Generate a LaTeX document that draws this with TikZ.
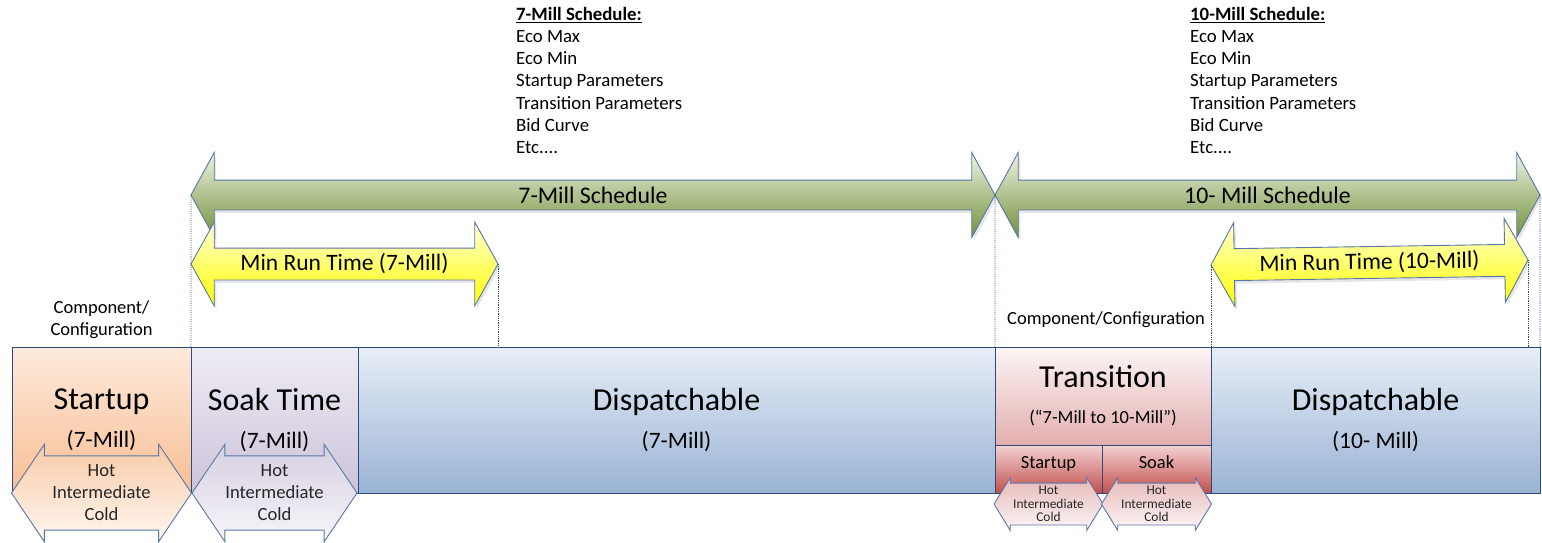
\documentclass[tikz,border=0pt]{standalone}
\usepackage{fontspec}
\setmainfont{Carlito}
\usetikzlibrary{positioning,shapes.arrows,shadows}

\definecolor{edge}{HTML}{2C4A7C}
\definecolor{arrowedge}{HTML}{5877A6}
\definecolor{starttop}{HTML}{FDEADC}
\definecolor{startbot}{HTML}{F8BE93}
\definecolor{soaktop}{HTML}{EFECF4}
\definecolor{soakbot}{HTML}{CCC3DA}
\definecolor{disptop}{HTML}{E7EEF7}
\definecolor{dispbot}{HTML}{9AB3D4}
\definecolor{transtop}{HTML}{FCF5F5}
\definecolor{transbot}{HTML}{E3AEAE}
\definecolor{subtop}{HTML}{F3D2D2}
\definecolor{subbot}{HTML}{C2504D}
\definecolor{schedtop}{HTML}{EEF3E3}
\definecolor{schedbot}{HTML}{72903A}
\definecolor{runtop}{HTML}{FFFFD8}
\definecolor{runbot}{HTML}{FFFF00}

\newcommand{\phasefont}{\fontsize{32}{36}\selectfont}

\tikzset{
    %boxes of the bottom row
    phase/.style={
           rectangle,
           draw=edge, line width=0.9pt,
           inner sep=0pt, outer sep=0pt,
           minimum height=146pt,
           align=center,
           font=\fontsize{23.5}{38}\selectfont},
    subphase/.style={
           rectangle,
           draw=edge, line width=0.9pt,
           inner sep=0pt, outer sep=0pt,
           minimum height=48pt,
           text height=12pt, text depth=14pt,
           top color=subtop, bottom color=subbot,
           font=\fontsize{18.5}{22}\selectfont},
    %double arrows, their text sits in a centre label
    span/.style={
           double arrow,
           draw=arrowedge, line width=0.9pt,
           inner sep=0pt, outer sep=0pt},
    sched/.style={
           span, minimum height=#1,
           inner ysep=14.5pt,
           double arrow head extend=27.5pt,
           double arrow tip angle=122.6,
           top color=schedtop, bottom color=schedbot,
           drop shadow={opacity=0.2, shadow xshift=2pt, shadow yshift=-3pt}},
    run/.style={
           span, minimum height=#1,
           inner ysep=15.5pt,
           double arrow head extend=26pt,
           double arrow tip angle=122,
           top color=runtop, bottom color=runbot,
           drop shadow={opacity=0.2, shadow xshift=2pt, shadow yshift=-3pt}},
    heat/.style={
           span, minimum height=#1,
           inner ysep=36.7pt,
           double arrow head extend=11.6pt,
           double arrow tip angle=112},
    smallheat/.style={
           span, minimum height=#1,
           inner ysep=20.5pt,
           double arrow head extend=5.5pt,
           double arrow tip angle=116.8,
           top color=transbot!85!white, bottom color=transtop},
    % texts
    schedtext/.style={font=\fontsize{23.8}{28}\selectfont},
    runtext/.style={font=\fontsize{23.5}{28}\selectfont},
    heattext/.style={align=center, text=black!85, font=\fontsize{18.6}{22}\selectfont},
    smallheattext/.style={align=center, text=black!85, font=\fontsize{13.4}{13.5}\selectfont},
    comptext/.style={align=center, inner sep=0pt, font=\fontsize{18.5}{22}\selectfont},
    listtext/.style={align=left, inner sep=0pt, font=\fontsize{18.8}{22.2}\selectfont},
    guide/.style={draw=edge, densely dotted, line width=0.8pt}
}

\begin{document}
\begin{tikzpicture}[x=1pt,y=-1pt]
\useasboundingbox (0,0) rectangle (1542,543);

% bottom row
\node[phase, minimum width=179pt, top color=starttop, bottom color=startbot] (startup) at (101.5,420)
    {{\phasefont Startup}\\(7-Mill)};
\node[phase, minimum width=167pt, top color=soaktop, bottom color=soakbot, right=0pt of startup] (soak)
    {{\phasefont Soak Time}\\(7-Mill)};
\node[phase, minimum width=637pt, top color=disptop, bottom color=dispbot, right=0pt of soak] (disp7)
    {{\phasefont Dispatchable}\\(7-Mill)};
\node[phase, minimum width=216pt, minimum height=98pt, font=\fontsize{18.5}{36}\selectfont,
    top color=transtop, bottom color=transbot, below right=0pt and 0pt of disp7.north east] (trans)
    {{\phasefont Transition}\\(“7-Mill to 10-Mill”)};
\node[subphase, minimum width=107pt, below right=0pt and 0pt of trans.south west] (tstart) {Startup};
\node[subphase, minimum width=109pt, right=0pt of tstart] (tsoak) {Soak};
\node[phase, minimum width=329pt, top color=disptop, bottom color=dispbot,
    below right=0pt and 0pt of trans.north east] (disp10)
    {{\phasefont Dispatchable}\\(10- Mill)};

% hot / intermediate / cold
\node[heat=180pt, top color=startbot!80!white, bottom color=starttop!40!white,
    label={[heattext]center:Hot\\Intermediate\\Cold}] (heatstart) at (startup.south) {};
\node[heat=165pt, top color=soakbot!80!white, bottom color=soaktop!50!white,
    label={[heattext]center:Hot\\Intermediate\\Cold}] (heatsoak) at (soak.south) {};
\node[smallheat=109pt, label={[smallheattext]center:Hot\\Intermediate\\Cold}] (heattstart)
    at ([yshift=-11pt]tstart.south) {};
\node[smallheat=110pt, label={[smallheattext]center:Hot\\Intermediate\\Cold}] (heattsoak)
    at ([yshift=-11pt]tsoak.south) {};

% schedules and min run times
\node[sched=804pt, label={[schedtext]center:7-Mill Schedule}] (sched7) at (593,195) {};
\node[sched=545pt, label={[schedtext]center:10- Mill Schedule}] (sched10) at (1267.5,195) {};
\node[run=307pt, label={[runtext]center:Min Run Time (7-Mill)}] (run7) at (344.5,264) {};
\node[run=317pt, rotate=0.9, label={[runtext, rotate=0.9]center:Min Run Time (10-Mill)}] (run10)
    at (1369.5,262.5) {};

% guide lines
\draw[guide] (sched7.west) -- (soak.north west);
\draw[guide] (run7.east) -- (run7.east |- disp7.north);
\draw[guide] (sched7.east) -- (trans.north west);
\draw[guide] (run10.west) -- (run10.west |- disp10.north);
\draw[guide] (run10.east) -- (run10.east |- disp10.north);
\draw[guide] (sched10.east) -- (disp10.north east);

% texts
\node[comptext] (comp7) at (101.5,320) {Component/\\Configuration};
\node[comptext] (comp10) at (1106,320) {Component/Configuration};
\node[listtext, anchor=north west] (list7) at (516,7)
    {\underline{\textbf{7-Mill Schedule:}}\\Eco Max\\Eco Min\\Startup Parameters\\Transition Parameters\\Bid Curve\\Etc....};
\node[listtext, anchor=north west] (list10) at (1190,7)
    {\underline{\textbf{10-Mill Schedule:}}\\Eco Max\\Eco Min\\Startup Parameters\\Transition Parameters\\Bid Curve\\Etc....};
\end{tikzpicture}
\end{document}
